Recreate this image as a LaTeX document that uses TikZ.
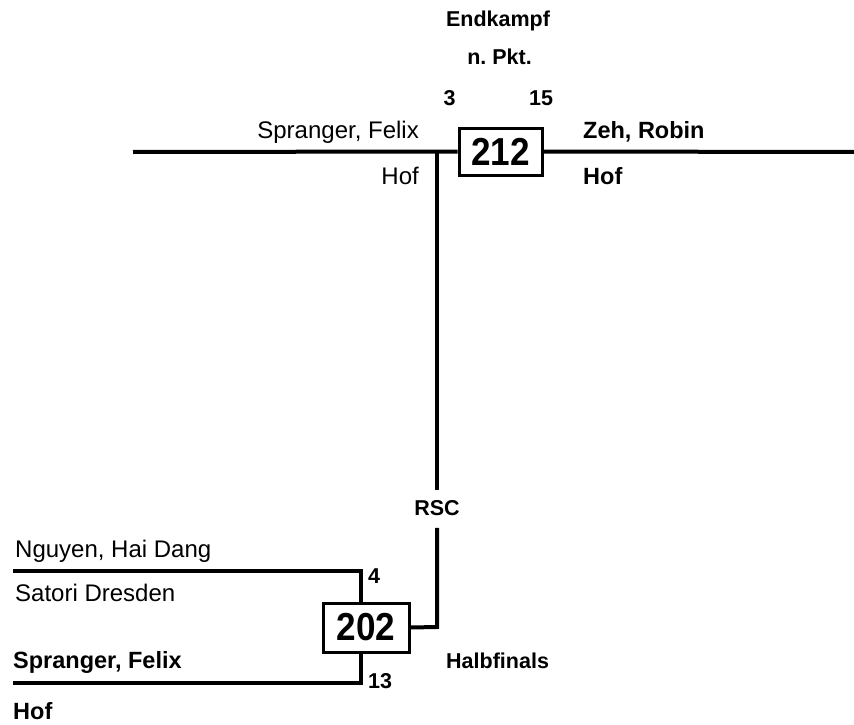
\documentclass[tikz,border=0pt]{standalone}
\usepackage{fontspec}
\setmainfont{Liberation Sans}
\frenchspacing
\begin{document}
\begin{tikzpicture}[x=1pt,y=-1pt,
  conn/.style={line width=4pt,line cap=butt,line join=miter},
  matchbox/.style={draw,line width=3pt,inner sep=0pt,font=\fontsize{39}{42}\selectfont\bfseries},
  pname/.style={inner sep=0pt,font=\fontsize{24}{28}\selectfont},
  bpname/.style={inner sep=0pt,font=\fontsize{23.5}{28}\selectfont\bfseries},
  lbl/.style={inner sep=0pt,font=\fontsize{21.5}{26}\selectfont\bfseries}]
\useasboundingbox (0,0) rectangle (854,725);
% boxes
\node[matchbox,minimum width=83pt,minimum height=47pt] (b212) at (500.5,151.5) {\scalebox{0.9}[1]{212}};
\node[matchbox,minimum width=86pt,minimum height=49pt] (b202) at (366,627.5) {\scalebox{0.9}[1]{202}};
% coordinates
\coordinate (L1) at (133,152);
\coordinate (R1) at (854,152);
\coordinate (J1) at (437,152);
\coordinate (C1) at (437,627);
\coordinate (A1) at (13,571);
\coordinate (A2) at (361,571);
\coordinate (B1) at (13,683);
\coordinate (B2) at (361,683);
% labels
\node[lbl,anchor=base] (endk) at (498,27) {Endkampf};
\node[lbl,anchor=base] (npkt) at (499.5,65) {n. Pkt.};
\node[lbl,anchor=base] (s3) at (449.5,106) {3};
\node[lbl,anchor=base] (s15) at (541,106) {15};
\node[pname,anchor=base east] (n1) at (419,138) {Spranger, Felix};
\node[pname,anchor=base east] (c1) at (419,184) {Hof};
\node[bpname,anchor=base west] (n2) at (583,138) {Zeh, Robin};
\node[bpname,anchor=base west] (c2) at (583,184) {Hof};
\node[lbl] (rsc) at (437,508) {RSC};
\node[pname,anchor=base west] (n3) at (15,557) {Nguyen, Hai Dang};
\node[pname,anchor=base west] (c3) at (15,601) {Satori Dresden};
\node[bpname,anchor=base west] (n4) at (13,668) {Spranger, Felix};
\node[bpname,anchor=base west] (c4) at (13,719) {Hof};
\node[lbl,anchor=base west] (s4) at (368,583) {4};
\node[lbl,anchor=base west] (s13) at (368,688) {13};
\node[lbl,anchor=base west] (hf) at (446,668) {Halbfinals};
% connectors
\draw[conn] (L1) -- (b212.west);
\draw[conn] (b212.east) -- (R1);
\draw[conn] (J1) -- ([yshift=10pt]rsc.north);
\draw[conn] ([yshift=-12pt]rsc.south) -- (C1) -- (b202.east);
\draw[conn] (A1) -- (A2) -- (A2 |- b202.north);
\draw[conn] (B1) -- (B2) -- (B2 |- b202.south);
\end{tikzpicture}
\end{document}
